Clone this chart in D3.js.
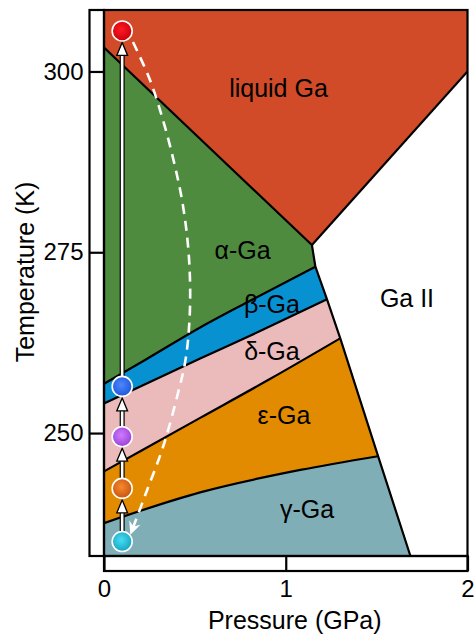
<!DOCTYPE html>
<html><head><meta charset="utf-8">
<script src="https://cdn.jsdelivr.net/npm/d3@7"></script>
<style>html,body{margin:0;padding:0;background:#fff;}svg{display:block;font-family:"Liberation Sans",Arial,Helvetica,sans-serif;}</style>
</head><body>
<svg id="c" width="475" height="637"></svg>
<script>
// ---- data ----
const xTicks = [0, 1, 2];
const yTicks = [250, 275, 300];
const xDomain = [0, 2];
const yDomain = [233, 308.5];
// phase boundaries [P (GPa), T (K)]
const liquidAlpha = [[0, 303.3], [1.144, 276.0]];
const liquidGaII = [[1.144, 276.0], [2, 300.0]];
const gaIIBoundary = [[1.144, 276.0], [1.163, 273.0], [1.227, 268.5], [1.30, 263.1], [1.508, 246.8], [1.686, 233.0]];
const alphaBeta = [[0, 256.8], [0.226, 260.1], [0.529, 264.6], [0.804, 268.3], [1.163, 273.0]];
const betaDelta = [[0, 254.1], [0.529, 260.3], [0.85, 264.0], [1.227, 268.5]];
const deltaEps = [[0, 244.7], [0.529, 252.1], [0.915, 257.5], [1.30, 263.1]];
const epsGamma = [[0, 237.55], [0.529, 241.8], [1.08, 244.9], [1.508, 246.8]];
// phase names and label anchors
const phaseNames = ["liquid Ga", "α-Ga", "β-Ga", "δ-Ga", "ε-Ga", "γ-Ga", "Ga II"];
const labelP = [0.960, 0.762, 0.924, 0.924, 0.990, 1.117, 1.667];
const labelT = [296.5, 274.0, 266.6, 260.1, 251.25, 238.25, 267.4];
// measurement points
const stepP = 0.1;
const stepT = [235.0, 242.35, 249.5, 256.45, 305.6];
// dashed path (cooling)
const dashedPath = [[0.1596, 304.07], [0.2531, 298.82], [0.3246, 293.29], [0.3824, 287.76], [0.4292, 282.23], [0.4594, 276.69], [0.4732, 271.16], [0.4704, 265.63], [0.4484, 260.10], [0.4017, 254.99], [0.3246, 248.07], [0.2311, 241.71], [0.1486, 236.18]];

// ---- styles ----
const phaseColors = {liquid: "#D14B28", alpha: "#4F8B3F", beta: "#0791D1", delta: "#EBBBBB", eps: "#E38B00", gamma: "#7FAEB6"};
const stepColors = [["#4ADCF2", "#12A3C2"], ["#F58A2E", "#C8520E"], ["#CE7CFF", "#9A3FD8"], ["#4C88FF", "#1E55DA"], ["#FF1A22", "#C8000C"]];

const svg = d3.select("#c");
const x = d3.scaleLinear().domain(xDomain).range([104, 467.5]);
const y = d3.scaleLinear().domain(yDomain).range([556, 10]);

const defs = svg.append("defs");
defs.append("clipPath").attr("id", "plotclip").append("rect")
  .attr("x", x(0)).attr("y", y(yDomain[1])).attr("width", x(2) - x(0)).attr("height", y(yDomain[0]) - y(yDomain[1]));
stepColors.forEach((c, i) => {
  const g = defs.append("radialGradient").attr("id", "g" + i).attr("cx", "45%").attr("cy", "42%").attr("r", "60%");
  g.append("stop").attr("offset", "0%").attr("stop-color", c[0]);
  g.append("stop").attr("offset", "100%").attr("stop-color", c[1]);
});
defs.append("marker").attr("id", "dh").attr("viewBox", "-12 -7 15 14")
  .attr("markerWidth", 15).attr("markerHeight", 14).attr("refX", 0).attr("refY", 0)
  .attr("orient", "auto").attr("markerUnits", "userSpaceOnUse")
  .append("path").attr("d", "M2,0 L-11,-6 L-7,0 L-11,6Z").attr("fill", "#fff");

const curved = d3.line().x(d => x(d[0])).y(d => y(d[1])).curve(d3.curveMonotoneX);
const straight = d3.line().x(d => x(d[0])).y(d => y(d[1]));
const rev = a => a.slice().reverse();
const join = parts => parts.map((p, i) => i ? p.replace(/^M/, "L") : p).join("") + "Z";

const plot = svg.append("g").attr("clip-path", "url(#plotclip)");
const regions = [
  [phaseColors.liquid, join([straight([[0, yDomain[1]], [2, yDomain[1]], [2, 300.0]]), straight(rev(liquidGaII)), straight(rev(liquidAlpha))])],
  [phaseColors.alpha, join([straight(liquidAlpha), straight(gaIIBoundary.slice(0, 2)), curved(rev(alphaBeta))])],
  [phaseColors.beta, join([curved(alphaBeta), straight(gaIIBoundary.slice(1, 3)), curved(rev(betaDelta))])],
  [phaseColors.delta, join([curved(betaDelta), straight(gaIIBoundary.slice(2, 4)), curved(rev(deltaEps))])],
  [phaseColors.eps, join([curved(deltaEps), straight(gaIIBoundary.slice(3, 5)), curved(rev(epsGamma))])],
  [phaseColors.gamma, join([curved(epsGamma), straight(gaIIBoundary.slice(4, 6)), straight([[gaIIBoundary[5][0], yDomain[0]], [0, yDomain[0]]])])]
];
plot.selectAll("path.reg").data(regions).join("path").attr("class", "reg")
  .attr("d", d => d[1]).attr("fill", d => d[0]).attr("stroke", d => d[0]).attr("stroke-width", 0.6);

const lines = [[liquidAlpha, straight], [liquidGaII, straight], [gaIIBoundary, straight], [alphaBeta, curved], [betaDelta, curved], [deltaEps, curved], [epsGamma, curved]];
plot.selectAll("path.bd").data(lines).join("path").attr("class", "bd")
  .attr("d", d => d[1](d[0])).attr("fill", "none").attr("stroke", "#000").attr("stroke-width", 2.2).attr("stroke-linejoin", "round");

// labels
svg.append("g").selectAll("text").data(phaseNames).join("text")
  .attr("x", (d, i) => x(labelP[i])).attr("y", (d, i) => y(labelT[i]))
  .attr("text-anchor", "middle").attr("font-size", 25).attr("fill", "#000").text(d => d);

// dashed arrow
plot.append("path").attr("d", d3.line().x(d => x(d[0])).y(d => y(d[1])).curve(d3.curveCatmullRom.alpha(0.5))(dashedPath))
  .attr("fill", "none").attr("stroke", "#fff").attr("stroke-width", 2.6).attr("stroke-dasharray", "10,7")
  .attr("marker-end", "url(#dh)");

// up arrows between points
const r = 10;
const arrows = svg.append("g");
for (let i = 0; i < stepT.length - 1; i++) {
  const cx = x(stepP);
  const yb = y(stepT[i]) - r - 0.5;
  const yt = y(stepT[i + 1]) + r + 1.5;
  const hh = 13, hw = 5.4;
  arrows.append("line").attr("x1", cx).attr("x2", cx).attr("y1", yb).attr("y2", yt + hh - 1).attr("stroke", "#000").attr("stroke-width", 5);
  arrows.append("line").attr("x1", cx).attr("x2", cx).attr("y1", yb + 1).attr("y2", yt + hh - 1).attr("stroke", "#fff").attr("stroke-width", 2.6);
  arrows.append("path").attr("d", `M${cx},${yt}L${cx - hw},${yt + hh}L${cx + hw},${yt + hh}Z`)
    .attr("fill", "#fff").attr("stroke", "#000").attr("stroke-width", 1.3).attr("stroke-linejoin", "miter");
}
svg.append("g").selectAll("circle").data(stepT).join("circle")
  .attr("cx", x(stepP)).attr("cy", d => y(d)).attr("r", r)
  .attr("fill", (d, i) => `url(#g${i})`).attr("stroke", "#fff").attr("stroke-width", 1.6);

// frames
const fr = svg.append("g").attr("fill", "none").attr("stroke", "#000").attr("stroke-width", 2.2);
fr.append("rect").attr("x", x(0)).attr("y", y(yDomain[1])).attr("width", x(2) - x(0)).attr("height", y(yDomain[0]) - y(yDomain[1]));
fr.append("rect").attr("x", 89.5).attr("y", y(yDomain[1])).attr("width", x(0) - 89.5).attr("height", y(yDomain[0]) - y(yDomain[1]));
fr.append("rect").attr("x", x(0)).attr("y", y(yDomain[0])).attr("width", x(2) - x(0)).attr("height", 15);

// axes
const yAx = svg.append("g").attr("transform", `translate(${x(0)},0)`)
  .call(d3.axisLeft(y).tickValues(yTicks).tickSize(x(0) - 89.5).tickPadding(6).tickSizeOuter(0));
const xAx = svg.append("g").attr("transform", `translate(0,${y(yDomain[0])})`)
  .call(d3.axisBottom(x).tickValues(xTicks).tickSize(15).tickPadding(9).tickSizeOuter(0).tickFormat(d3.format("d")));
[yAx, xAx].forEach(a => {
  a.select(".domain").remove();
  a.selectAll(".tick line").attr("stroke", "#000").attr("stroke-width", 2.2);
  a.selectAll(".tick text").attr("font-size", 24).attr("fill", "#000").attr("font-family", "Liberation Sans, Arial, sans-serif");
});

// titles
svg.append("text").attr("x", (x(0) + x(2)) / 2 + 9).attr("y", 629).attr("text-anchor", "middle")
  .attr("font-size", 25).text("Pressure (GPa)");
svg.append("text").attr("transform", `translate(34,272) rotate(-90)`).attr("text-anchor", "middle")
  .attr("font-size", 25).text("Temperature (K)");
</script>
</body></html>
